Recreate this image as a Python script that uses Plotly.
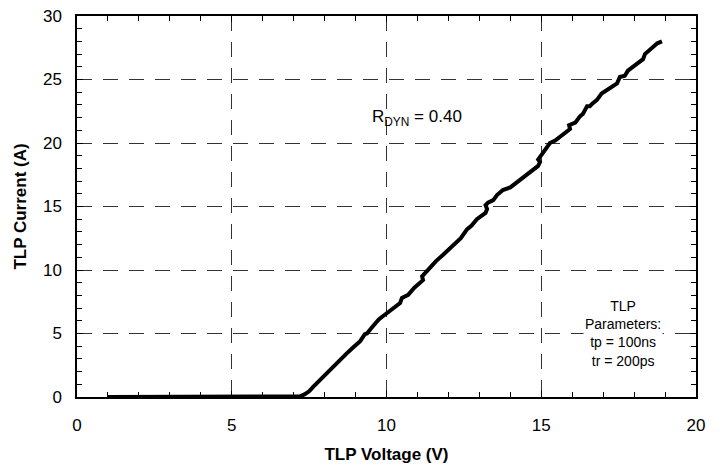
import plotly.graph_objects as go

voltage = [1.0, 3.0, 5.0, 7.0, 7.2, 7.35, 7.5, 7.63, 7.85, 8.08, 8.3, 8.5, 8.7, 8.92, 9.15, 9.3, 9.37,
           9.5, 9.69, 9.75, 9.85, 10.0, 10.2, 10.44, 10.5, 10.7, 10.9, 11.0, 11.1, 11.18, 11.15, 11.3,
           11.4, 11.6, 11.83, 12.05, 12.28, 12.4, 12.6, 12.75, 12.92, 13.2, 13.25, 13.2, 13.28, 13.45,
           13.57, 13.76, 14.0, 14.1, 14.3, 14.5, 14.73, 14.9, 14.96, 14.9, 15.02, 15.15, 15.28, 15.45,
           15.6, 15.75, 15.93, 15.9, 16.1, 16.25, 16.35, 16.48, 16.57, 16.65, 16.8, 16.95, 17.12, 17.3,
           17.45, 17.54, 17.7, 17.8, 17.96, 18.1, 18.29, 18.35, 18.45, 18.6, 18.75, 18.9]
current = [0, 0, 0, 0, 0.05, 0.2, 0.45, 0.8, 1.35, 1.9, 2.4, 2.9, 3.4, 3.9, 4.4, 4.95, 5.0,
           5.4, 6.0, 6.1, 6.3, 6.6, 7.0, 7.4, 7.8, 8.05, 8.6, 8.8, 9.0, 9.2, 9.5, 9.9,
           10.2, 10.7, 11.2, 11.7, 12.2, 12.5, 13.2, 13.5, 14.0, 14.5, 14.8, 15.1, 15.3, 15.5,
           15.9, 16.3, 16.5, 16.7, 17.1, 17.4, 17.9, 18.2, 18.5, 18.7, 19.1, 19.5, 20.0, 20.2,
           20.5, 20.7, 21.1, 21.4, 21.6, 22.1, 22.3, 22.9, 22.9, 23.1, 23.4, 23.9, 24.2, 24.5,
           24.7, 25.2, 25.3, 25.7, 26.0, 26.3, 26.6, 27.0, 27.2, 27.6, 27.85, 28.0]

x_ticks = [0, 5, 10, 15, 20]
y_ticks = [0, 5, 10, 15, 20, 25, 30]

FONT = "Liberation Sans, Arial, sans-serif"

fig = go.Figure()
fig.add_trace(go.Scatter(x=voltage, y=current, mode="lines",
                         line=dict(color="black", width=4), showlegend=False))

axis_common = dict(
    showline=True, linecolor="black", linewidth=1.5, mirror="allticks",
    ticks="inside", ticklen=6, tickcolor="black", tickwidth=1,
    showgrid=True, gridcolor="#333333", gridwidth=1, griddash="15px,11px",
    zeroline=False, automargin=False, ticklabeloverflow="allow",
    tickfont=dict(family=FONT, size=17, color="black"),
    minor=dict(ticks="inside", ticklen=5, tickcolor="black", tickwidth=1, dtick=1, showgrid=False),
)

fig.update_xaxes(range=[0, 20], tickvals=x_ticks, ticktext=[str(v) for v in x_ticks],
                 title=dict(text="<b>TLP Voltage (V)</b>", font=dict(family=FONT, size=17, color="black"),
                            standoff=14),
                 ticklabelstandoff=12, **axis_common)
fig.update_yaxes(range=[0, 30], tickvals=y_ticks, ticktext=[str(v) for v in y_ticks],
                 title=dict(text="<b>TLP Current (A)</b>", font=dict(family=FONT, size=17, color="black"),
                            standoff=12),
                 ticklabelstandoff=10, **axis_common)

fig.add_annotation(x=11.0, y=22.0, xref="x", yref="y", showarrow=False,
                   text="R<sub>DYN</sub> = 0.40",
                   font=dict(family=FONT, size=17, color="black"))
fig.add_annotation(x=17.64, y=5.0, xref="x", yref="y", showarrow=False,
                   text="TLP<br>Parameters:<br>tp = 100ns<br>tr = 200ps",
                   bgcolor="white", align="center",
                   font=dict(family=FONT, size=14, color="black"))

fig.update_layout(width=715, height=460, paper_bgcolor="white", plot_bgcolor="white",
                  margin=dict(l=69, r=27, t=8, b=71),
                  font=dict(family=FONT, color="black"))

fig.write_html("out.html")
